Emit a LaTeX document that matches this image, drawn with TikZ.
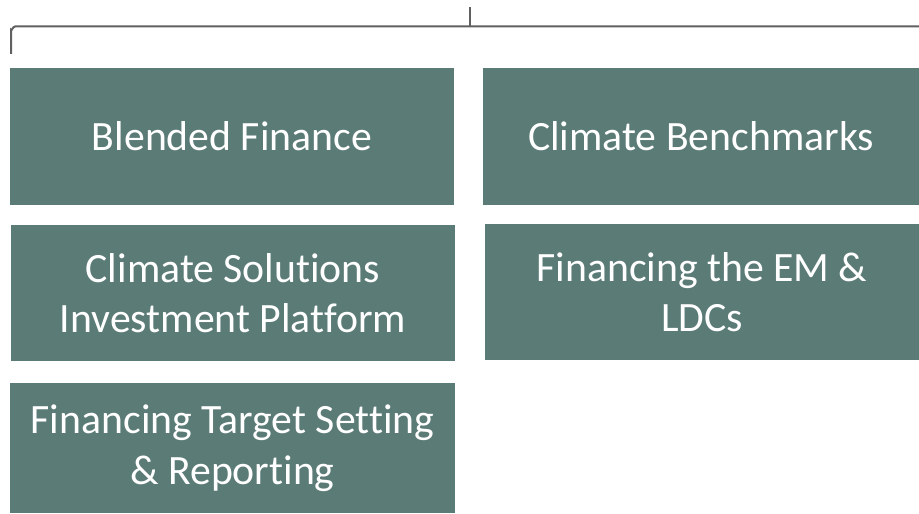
\documentclass[tikz,border=0pt]{standalone}
\usepackage{fontspec}
\setmainfont[Ligatures={NoCommon}]{Carlito}
\definecolor{tile}{HTML}{5B7B77}
\definecolor{rule}{HTML}{606060}
\begin{document}
\begin{tikzpicture}[x=0.75pt,y=-0.75pt,
  tile/.style={fill=tile,draw=none,text=white,align=center,
    font=\fontsize{31.3}{38}\selectfont},
  bracket/.style={draw=rule,line width=1.5pt}]
\useasboundingbox (0,0) rectangle (919,513);
% bracket over the tiles
\coordinate (top) at (470,7);
\coordinate (mid) at (470,26.5);
\coordinate (lend) at (11,54);
\coordinate (rend) at (919,26.5);
\draw[bracket] (lend) -- (11,30) to[out=-90,in=180] (15,26.5) -- (rend);
\draw[bracket] (top) -- (mid);
% tiles
\path[fill=tile] (10,68) rectangle (454,205) node[tile,pos=0.5] (bf) {Blended Finance};
\path[fill=tile] (483,68) rectangle (919,205) node[tile,pos=0.5] (cb) {Climate Benchmarks};
\path[fill=tile] (11,225) rectangle (455,361) node[tile,pos=0.5] (cs) {Climate Solutions\\Investment Platform};
\path[fill=tile] (485,224) rectangle (919,360) node[tile,pos=0.5] (em) {Financing the EM \&\\LDCs};
\path[fill=tile] (10,383) rectangle (455,513) node[tile,pos=0.5] (ts) {Financing Target Setting\\\& Reporting};
\end{tikzpicture}
\end{document}
